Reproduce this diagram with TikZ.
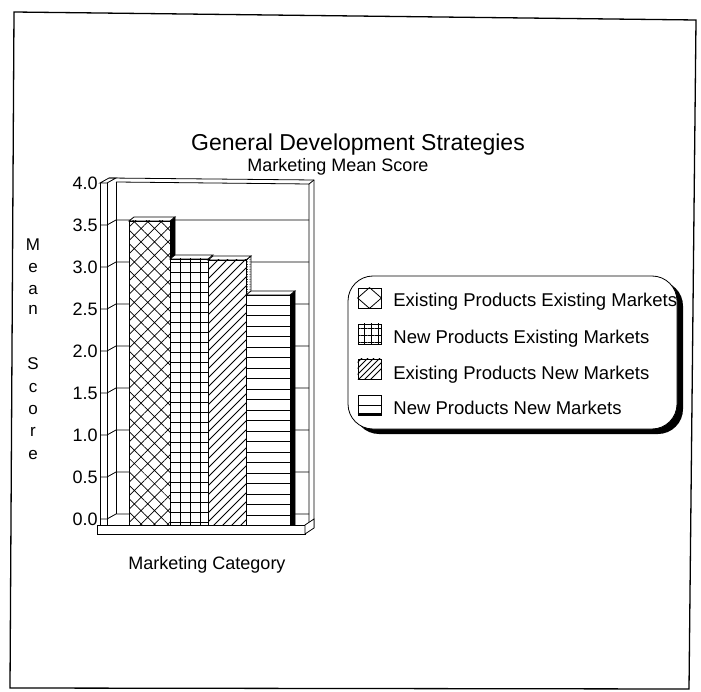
\documentclass[tikz,border=0pt]{standalone}
\usepackage{fontspec}
\setmainfont{Liberation Sans}
\usetikzlibrary{patterns.meta}

\begin{document}
\begin{tikzpicture}[x=1pt, y=-1pt, line width=0.8pt,
	txt/.style={inner sep=0pt, font=\fontsize{18}{20}\selectfont},
	icon/.style={draw, inner sep=0pt, minimum width=23pt, minimum height=20pt},
	face/.style={draw, fill=white},
	bar/.style={draw, preaction={fill=white}}]

	\useasboundingbox (0,0) rectangle (701,692);

	% frame
	\draw [line width=1.3pt] (14,12) -- (696,20) -- (689,689) -- (10,688) -- cycle;

	% titles
	\node [txt, anchor=base, font=\fontsize{23}{26}\selectfont] (title) at (358,151) {General Development Strategies};
	\node [txt, anchor=base] (subtitle) at (338,172) {Marketing Mean Score};

	% walls
	\draw (100,183) -- (100,525);
	\draw (107,183) -- (107,525);
	\draw (116,182) -- (116,514);
	\draw (100,183) -- (107,183) -- (116,178) -- (109,178) -- cycle;
	\draw (109,178) -- (314,180) -- (314,528);
	\draw (116,182) -- (309,184) -- (309,525);
	\draw (309,184) -- (314,180);

	% grid and ticks
	\foreach \y in {225,267,...,519}
		\draw (100,\y) -- (107,\y) -- (116,\y-5) -- (309,\y-5);
	\foreach \v [count=\i] in {4.0,3.5,3.0,2.5,2.0,1.5,1.0,0.5,0.0}
		\node [txt, anchor=east] (tick\i) at (98,{141+42*\i}) {\v};

	% floor
	\draw [face] (97,525) rectangle (305,534);
	\draw [face] (305,525) -- (314,519) -- (314,528) -- (305,534) -- cycle;

	% bars
	\draw [fill=black] (170,221) -- (175,217) -- (175,525) -- (170,525) -- cycle;
	\draw [face] (129,221) -- (134,217) -- (175,217) -- (170,221) -- cycle;
	\draw [bar, pattern={Hatch[angle=45, distance=9.5pt, line width=0.7pt]}] (129,221) rectangle (170,525);

	\draw [face] (170,259) -- (175,255) -- (213,255) -- (208,259) -- cycle;
	\draw [bar, pattern={Hatch[angle=0, distance=10pt, line width=0.7pt]}] (170,259) rectangle (208,525);

	\draw [bar, pattern={Dots[distance=2.5pt, radius=0.5pt]}] (246,260) -- (251,256) -- (251,525) -- (246,525) -- cycle;
	\draw [face] (208,260) -- (213,256) -- (251,256) -- (246,260) -- cycle;
	\draw [face] (208,260) rectangle (246,525);
	\begin{scope}
		\clip (208,260) rectangle (246,525);
		\foreach \t in {260,269,...,575}
			\draw (200,\t) -- (260,\t-60);
	\end{scope}
	\draw (208,260) rectangle (246,525);

	\draw [fill=black] (290,295) -- (295,291) -- (295,525) -- (290,525) -- cycle;
	\draw [face] (246,295) -- (251,291) -- (295,291) -- (290,295) -- cycle;
	\draw [face] (246,295) rectangle (290,525);
	\foreach \y in {515,504.5,...,300}
		\draw (246,\y) -- (290,\y);

	% axis titles
	\foreach \l/\y [count=\i] in {M/251, e/273, a/295, n/315, S/370, c/392, o/414, r/436, e/459}
		\node [txt, anchor=base, font=\fontsize{17}{20}\selectfont] (ytitle\i) at (33,\y) {\l};
	\node [txt, anchor=base] (xtitle) at (207,569) {Marketing Category};

	% legend
	\fill [rounded corners=25pt] (354,281) rectangle (683,434);
	\draw [fill=white, rounded corners=25pt] (348,276) rectangle (677,429);

	\node [icon] (key1) at (369.5,298) {};
	\draw (key1.west) -- (key1.north) -- (key1.east) -- (key1.south) -- cycle;
	\node [icon, pattern={Hatch[angle=0, distance=7pt]}] (key2) at (369.5,334) {};
	\node [icon] (key3) at (369.5,369) {};
	\begin{scope}
		\clip (key3.south west) rectangle (key3.north east);
		\foreach \t in {359,365,...,400}
			\draw (355,\t) -- (385,\t-30);
	\end{scope}
	\node [icon] (key4) at (369.5,405) {};
	\draw (key4.west) -- (key4.east);
	\draw [line width=2pt] ([yshift=1.5pt]key4.south west) -- ([yshift=1.5pt]key4.south east);

	\node [txt, anchor=base west, font=\fontsize{18.5}{20}\selectfont] (name1) at (393,306.5) {Existing Products Existing Markets};
	\node [txt, anchor=base west, font=\fontsize{18.5}{20}\selectfont] (name2) at (393,343.5) {New Products Existing Markets};
	\node [txt, anchor=base west, font=\fontsize{18.5}{20}\selectfont] (name3) at (393,379.5) {Existing Products New Markets};
	\node [txt, anchor=base west, font=\fontsize{18.5}{20}\selectfont] (name4) at (393,414.5) {New Products New Markets};

\end{tikzpicture}
\end{document}
